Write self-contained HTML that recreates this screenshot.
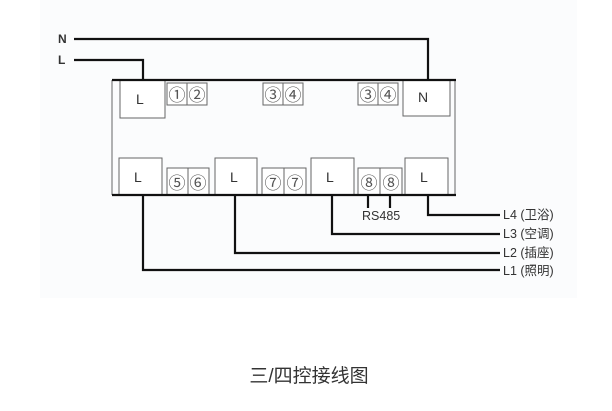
<!DOCTYPE html>
<html><head><meta charset="utf-8"><style>
body{margin:0;background:#fff;width:612px;height:406px;overflow:hidden}
svg text{font-family:"Liberation Sans","Noto Sans CJK SC",sans-serif}
</style></head><body>
<svg width="612" height="406" viewBox="0 0 612 406" xmlns="http://www.w3.org/2000/svg">
<rect x="40" y="0" width="537" height="298" fill="#fbfcfd"/>
<g fill="#fff" stroke="#666" stroke-width="1">
<line x1="112" y1="80" x2="112" y2="195"/>
<line x1="455" y1="80" x2="455" y2="195"/>
<rect x="120" y="80" width="45" height="38"/>
<rect x="167" y="83" width="20" height="22"/><rect x="187" y="83" width="20" height="22"/>
<rect x="263" y="83" width="20" height="22"/><rect x="283" y="83" width="20" height="22"/>
<rect x="358" y="83" width="20" height="22"/><rect x="378" y="83" width="20" height="22"/>
<rect x="403" y="80" width="47" height="36"/>
<rect x="119" y="158" width="43" height="37"/><rect x="215" y="158" width="42" height="37"/>
<rect x="311" y="158" width="43" height="37"/><rect x="405" y="158" width="43" height="37"/>
<rect x="167" y="168" width="21" height="27"/><rect x="188" y="168" width="21" height="27"/>
<rect x="262" y="168" width="22" height="27"/><rect x="284" y="168" width="22" height="27"/>
<rect x="358" y="168" width="22" height="27"/><rect x="380" y="168" width="22" height="27"/>
</g>
<g fill="none" stroke="#111" stroke-width="2.2">
<line x1="112" y1="80" x2="456" y2="80"/>
<line x1="112" y1="195" x2="456" y2="195"/>
<polyline points="74,39 428,39 428,80"/>
<polyline points="74,60 143,60 143,80"/>
<polyline points="143,195 143,270 500,270"/>
<polyline points="235,195 235,253 500,253"/>
<polyline points="332,195 332,234 500,234"/>
<polyline points="428,195 428,215 500,215"/>
<line x1="368" y1="195" x2="368" y2="208"/>
<line x1="390" y1="195" x2="390" y2="208"/>
</g>
<g fill="#333" font-size="14">
<text x="58" y="43" font-weight="bold" font-size="12">N</text>
<text x="58" y="64" font-weight="bold" font-size="12">L</text>
<text x="136" y="104">L</text><text x="418" y="102">N</text>
<text x="134" y="182">L</text><text x="230" y="182">L</text><text x="326" y="182">L</text><text x="420" y="182">L</text>
</g>
<g fill="#555" font-size="17" text-anchor="middle">
<text x="177" y="101">①</text><text x="197" y="101">②</text>
<text x="273" y="101">③</text><text x="293" y="101">④</text>
<text x="368" y="101">③</text><text x="388" y="101">④</text>
<text x="177" y="189">⑤</text><text x="198" y="189">⑥</text>
<text x="273" y="189">⑦</text><text x="295" y="189">⑦</text>
<text x="369" y="189">⑧</text><text x="391" y="189">⑧</text>
</g>
<g fill="#333" font-size="12.5">
<text x="362" y="220">RS485</text>
<text x="503" y="219">L4 (卫浴)</text>
<text x="503" y="238">L3 (空调)</text>
<text x="503" y="257">L2 (插座)</text>
<text x="503" y="275">L1 (照明)</text>
</g>
<text x="309" y="382" font-size="19" fill="#333" text-anchor="middle">三/四控接线图</text>
</svg>
</body></html>
